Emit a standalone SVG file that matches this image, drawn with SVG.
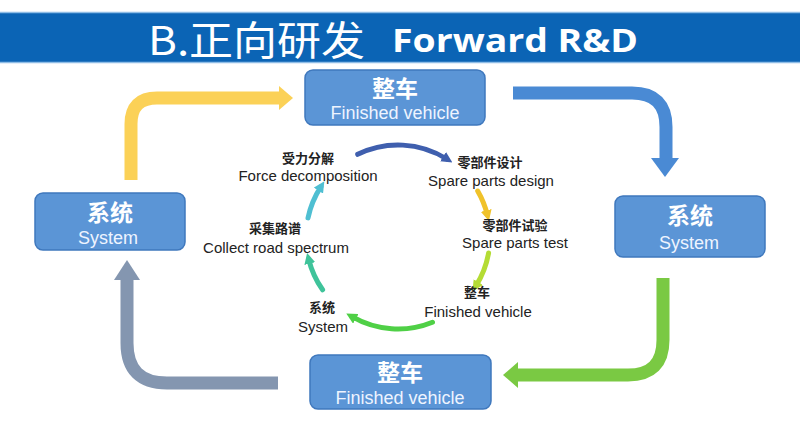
<svg xmlns="http://www.w3.org/2000/svg" width="800" height="424" viewBox="0 0 800 424">
<style>
.box{fill:#5b95d6;stroke:#3f78bd;stroke-width:1.5}
.ncn{font-family:"Noto Sans CJK SC",sans-serif;font-weight:bold;font-size:23px;fill:#ffffff;text-anchor:middle}
.nen{font-family:"Liberation Sans",Arial,sans-serif;font-size:18px;fill:#eef4ff;text-anchor:middle}
.lcn{font-family:"Noto Sans CJK SC",sans-serif;font-weight:bold;font-size:13px;fill:#222;text-anchor:middle}
.len{font-family:"Liberation Sans",Arial,sans-serif;font-size:15px;fill:#222;text-anchor:middle}
.big{fill:none;stroke-width:13}
.arc{fill:none;stroke-width:5;stroke-linecap:round}
</style>
<defs>
<marker id="mb" viewBox="0 0 10 10" refX="4" refY="5" markerWidth="2.2" markerHeight="2.2" orient="auto"><path d="M0,0 L10,5 L0,10 Z" fill="#3f5fae"/></marker>
<marker id="my" viewBox="0 0 10 10" refX="4" refY="5" markerWidth="2.2" markerHeight="2.2" orient="auto"><path d="M0,0 L10,5 L0,10 Z" fill="#f0c22a"/></marker>
<marker id="myg" viewBox="0 0 10 10" refX="4" refY="5" markerWidth="2.2" markerHeight="2.2" orient="auto"><path d="M0,0 L10,5 L0,10 Z" fill="#b4dc34"/></marker>
<marker id="mg" viewBox="0 0 10 10" refX="4" refY="5" markerWidth="2.2" markerHeight="2.2" orient="auto"><path d="M0,0 L10,5 L0,10 Z" fill="#4fd046"/></marker>
<marker id="mt" viewBox="0 0 10 10" refX="4" refY="5" markerWidth="2.2" markerHeight="2.2" orient="auto"><path d="M0,0 L10,5 L0,10 Z" fill="#3fc39a"/></marker>
<marker id="mc" viewBox="0 0 10 10" refX="4" refY="5" markerWidth="2.2" markerHeight="2.2" orient="auto"><path d="M0,0 L10,5 L0,10 Z" fill="#4fbfd2"/></marker>
</defs>
<rect x="0" y="0" width="800" height="424" fill="#ffffff"/>
<g id="title">
<rect x="0" y="12" width="800" height="51" fill="#0b64b5"/>
<line x1="0" y1="12.5" x2="800" y2="12.5" stroke="#8fbde6" stroke-width="1.5"/>
<line x1="0" y1="62.5" x2="800" y2="62.5" stroke="#8fbde6" stroke-width="1.5"/>
<text x="148" y="55" font-family="Noto Sans CJK SC,sans-serif" font-size="40" fill="#ffffff" textLength="217" lengthAdjust="spacingAndGlyphs">B.正向研发</text>
<text x="392" y="52" font-family="Open Sans,Liberation Sans,sans-serif" font-weight="bold" font-size="33" fill="#ffffff" textLength="246" lengthAdjust="spacingAndGlyphs">Forward R&amp;D</text>
</g>
<g id="connectors">
<path class="big" stroke="#fbd157" d="M131,180 V124 Q131,98 157,98 H280"/>
<polygon fill="#fbd157" points="279,86 293,98 279,110"/>
<path class="big" stroke="#4a8ad4" d="M513,93 H632 Q666,93 666,127 V160"/>
<polygon fill="#4a8ad4" points="651,158 679,158 665,177"/>
<path class="big" stroke="#7ac943" d="M663,278 V340 Q663,375 628,375 H515"/>
<polygon fill="#7ac943" points="518,362 503,375 518,388"/>
<path class="big" stroke="#8496b0" d="M278,383 H167 Q127,383 127,343 V278"/>
<polygon fill="#8496b0" points="114,280 140,280 127,260"/>
<path class="arc" stroke="#3f5fae" d="M357.7,154.3 A92,92 0 0 1 446.8,159" marker-end="url(#mb)"/>
<path class="arc" stroke="#f0c22a" d="M477.7,191 A92,92 0 0 1 487.3,214.7" marker-end="url(#my)"/>
<path class="arc" stroke="#b4dc34" d="M488.6,253 A92,92 0 0 1 476,285.8" marker-end="url(#myg)"/>
<path class="arc" stroke="#4fd046" d="M432.5,322.3 A92,92 0 0 1 352,316.7" marker-end="url(#mg)"/>
<path class="arc" stroke="#3fc39a" d="M322.6,289.8 A92,92 0 0 1 308.7,259.3" marker-end="url(#mt)"/>
<path class="arc" stroke="#4fbfd2" d="M308,217.9 A92,92 0 0 1 320.8,186.9" marker-end="url(#mc)"/>
</g>
<g id="node-top">
<rect class="box" x="305" y="70" width="180" height="55" rx="8"/>
<text class="ncn" x="395" y="97">整车</text>
<text class="nen" x="395" y="119">Finished vehicle</text>
</g>
<g id="node-left">
<rect class="box" x="35" y="193" width="150" height="57" rx="8"/>
<text class="ncn" x="110" y="221">系统</text>
<text class="nen" x="108" y="244">System</text>
</g>
<g id="node-right">
<rect class="box" x="615" y="196" width="150" height="61" rx="8"/>
<text class="ncn" x="690" y="224">系统</text>
<text class="nen" x="689" y="249">System</text>
</g>
<g id="node-bottom">
<rect class="box" x="310" y="355" width="181" height="54" rx="8"/>
<text class="ncn" x="400" y="381">整车</text>
<text class="nen" x="400" y="404">Finished vehicle</text>
</g>
<g id="step-force">
<text class="lcn" x="308" y="163">受力分解</text>
<text class="len" x="308" y="181">Force decomposition</text>
</g>
<g id="step-design">
<text class="lcn" x="490" y="167">零部件设计</text>
<text class="len" x="491" y="186">Spare parts design</text>
</g>
<g id="step-test">
<text class="lcn" x="515" y="230">零部件试验</text>
<text class="len" x="515" y="248">Spare parts test</text>
</g>
<g id="step-vehicle">
<text class="lcn" x="477" y="297">整车</text>
<text class="len" x="478" y="317">Finished vehicle</text>
</g>
<g id="step-system">
<text class="lcn" x="322" y="312">系统</text>
<text class="len" x="323" y="332">System</text>
</g>
<g id="step-road">
<text class="lcn" x="275" y="233">采集路谱</text>
<text class="len" x="276" y="253">Collect road spectrum</text>
</g>
</svg>
